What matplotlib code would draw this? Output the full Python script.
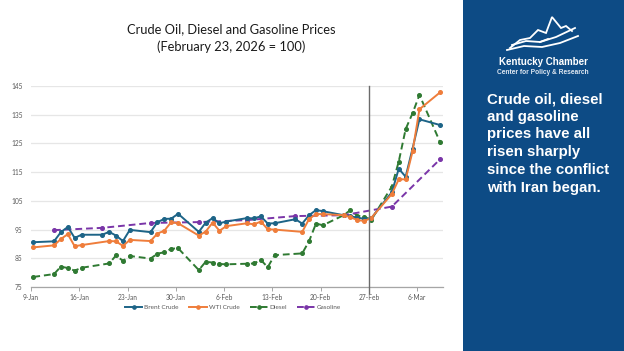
import matplotlib
matplotlib.use("Agg")
import matplotlib.pyplot as plt
import matplotlib.dates as mdates
from matplotlib.lines import Line2D
from matplotlib.patches import Rectangle
import pandas as pd

# ---------------- data ----------------
brent_dates = ["2026-01-09","2026-01-12","2026-01-13","2026-01-14","2026-01-15","2026-01-16",
               "2026-01-19","2026-01-20","2026-01-21","2026-01-22","2026-01-23",
               "2026-01-26","2026-01-27","2026-01-28","2026-01-29","2026-01-30",
               "2026-02-02","2026-02-03","2026-02-04","2026-02-05","2026-02-06",
               "2026-02-09","2026-02-10","2026-02-11","2026-02-12","2026-02-13",
               "2026-02-16","2026-02-17","2026-02-18","2026-02-19","2026-02-20",
               "2026-02-23","2026-02-24","2026-02-25","2026-02-26","2026-02-27",
               "2026-03-02","2026-03-03","2026-03-04","2026-03-05","2026-03-06","2026-03-09"]
brent = [90.6, 90.9, 94.1, 95.9, 92.1, 93.2,
         93.2, 94.2, 92.9, 91.0, 94.9,
         94.1, 97.6, 98.7, 98.8, 100.5,
         94.2, 97.4, 99.0, 97.2, 97.8,
         99.0, 98.9, 99.6, 97.1, 97.2,
         98.6, 97.1, 100.0, 101.8, 101.4,
         100.0, 99.6, 99.2, 98.7, 98.9,
         108.0, 116.2, 113.4, 123.2, 133.4, 131.4]

wti_dates = ["2026-01-09","2026-01-12","2026-01-13","2026-01-14","2026-01-15","2026-01-16",
             "2026-01-20","2026-01-21","2026-01-22","2026-01-23",
             "2026-01-26","2026-01-27","2026-01-28","2026-01-29","2026-01-30",
             "2026-02-02","2026-02-03","2026-02-04","2026-02-05","2026-02-06",
             "2026-02-09","2026-02-10","2026-02-11","2026-02-12","2026-02-13",
             "2026-02-17","2026-02-18","2026-02-19","2026-02-20",
             "2026-02-23","2026-02-24","2026-02-25","2026-02-26","2026-02-27",
             "2026-03-02","2026-03-03","2026-03-04","2026-03-05","2026-03-06","2026-03-09"]
wti = [88.8, 89.5, 91.7, 93.4, 89.2, 89.6,
       91.0, 90.9, 89.3, 91.4,
       91.0, 93.6, 94.6, 97.6, 97.2,
       92.9, 94.3, 97.4, 94.6, 96.2,
       97.2, 96.8, 97.8, 95.1, 95.0,
       94.2, 98.7, 100.4, 100.4,
       100.0, 99.3, 98.3, 98.0, 99.0,
       107.4, 112.5, 112.5, 122.2, 136.9, 142.8]

diesel_dates = wti_dates
diesel = [78.5, 79.5, 82.1, 81.6, 80.7, 81.7,
          83.2, 86.0, 84.1, 85.8,
          84.9, 86.6, 87.1, 88.3, 88.5,
          80.9, 83.8, 83.5, 83.0, 82.9,
          83.1, 83.2, 84.4, 81.9, 86.1,
          86.7, 91.0, 97.1, 96.5,
          100.0, 101.8, 99.8, 99.5, 98.3,
          110.0, 118.7, 130.0, 135.5, 141.9, 125.4]

gas_dates = ["2026-01-12","2026-01-19","2026-01-26","2026-02-02","2026-02-09",
             "2026-02-16","2026-02-23","2026-03-02","2026-03-09"]
gasoline = [94.8, 95.6, 97.3, 97.6, 98.3, 99.7, 100.0, 103.0, 119.5]

y_ticks = [75, 85, 95, 105, 115, 125, 135, 145]
x_ticks = ["2026-01-09","2026-01-16","2026-01-23","2026-01-30","2026-02-06",
           "2026-02-13","2026-02-20","2026-02-27","2026-03-06"]
conflict_date = "2026-02-27"

title = "Crude Oil, Diesel and Gasoline Prices"
subtitle = "(February 23, 2026 = 100)"
panel_text = "Crude oil, diesel\nand gasoline\nprices have all\nrisen sharply\nsince the conflict\nwith Iran began."

plt.rcParams["font.family"] = ["Lato", "DejaVu Sans"]

# ---------------- figure ----------------
fig = plt.figure(figsize=(6.24, 3.51), dpi=100)
fig.patch.set_facecolor("white")

ax = fig.add_axes([31/624, 1-287/351, (443-31)/624, (287-86)/351])
off = pd.Timedelta(hours=8)

def d(lst):
    return pd.to_datetime(lst) + off

ms = 2.6
ax.plot(d(brent_dates), brent, color="#1d6487", lw=1.4, marker="o", ms=ms, label="Brent Crude", zorder=4)
ax.plot(d(wti_dates), wti, color="#ef7d3b", lw=1.4, marker="o", ms=ms, label="WTI Crude", zorder=4)
ax.plot(d(diesel_dates), diesel, color="#2f7a32", lw=1.4, ls=(0, (3.5, 2)), marker="o", ms=ms, label="Diesel", zorder=3)
ax.plot(d(gas_dates), gasoline, color="#7a35a8", lw=1.4, ls=(0, (3.5, 2)), marker="o", ms=ms, label="Gasoline", zorder=3)

ax.axvline(pd.to_datetime(conflict_date), ymin=-0.03, ymax=1.0, color="#6b6b6b", lw=1.0, zorder=5, clip_on=False)

ax.set_ylim(75, 145)
ax.set_xlim(pd.to_datetime("2026-01-09"), pd.to_datetime("2026-03-10") - pd.Timedelta(hours=6))
ax.set_yticks(y_ticks)
ax.set_yticklabels([str(v) for v in y_ticks])
ax.set_xticks(pd.to_datetime(x_ticks))
ax.xaxis.set_major_formatter(mdates.DateFormatter("%-d-%b"))
ax.grid(axis="y", color="#e6e6e6", lw=0.9)
ax.set_axisbelow(True)
for s in ["top", "right", "left"]:
    ax.spines[s].set_visible(False)
ax.spines["bottom"].set_color("#a6a6a6")
ax.spines["bottom"].set_linewidth(0.9)
ax.tick_params(axis="y", length=0, labelsize=4.8, labelcolor="#595959", pad=6)
ax.tick_params(axis="x", length=3, width=0.7, color="#a6a6a6", labelsize=4.8, labelcolor="#595959", pad=2)

fig.text(231/624, 1-29/351, title, ha="center", va="center", fontsize=9.3, color="#1a1a1a")
fig.text(231/624, 1-47/351, subtitle, ha="center", va="center", fontsize=9.3, color="#1a1a1a")

leg = fig.legend(loc="center", bbox_to_anchor=(233/624, 1-307/351), ncol=4, frameon=False,
                 fontsize=4.6, handlelength=2.8, columnspacing=1.6, handletextpad=0.3, markerscale=0.9)
for t in leg.get_texts():
    t.set_color("#595959")

# ---------------- right panel ----------------
fig.add_artist(Rectangle((463/624, 0), (624-463)/624, 1, transform=fig.transFigure,
                         facecolor="#0d4b85", edgecolor="none", zorder=0))

def fx(x):
    return x/624
def fy(y):
    return 1-y/351

logo_lines = [
    [(510, 48), (520, 40), (530, 38), (538, 30), (546, 33), (552, 17), (561, 28), (566, 26), (572, 31)],
    [(512, 45), (526, 41), (540, 42), (556, 37), (575, 28)],
    [(507, 50), (524, 46), (542, 47), (560, 43), (578, 36)],
    [(540, 42), (548, 39)],
]
for pts in logo_lines:
    xs = [fx(p[0]) for p in pts]
    ys = [fy(p[1]) for p in pts]
    fig.add_artist(Line2D(xs, ys, transform=fig.transFigure, color="white", lw=1.3, solid_joinstyle="miter"))

fig.text(fx(543), fy(62), "Kentucky Chamber", ha="center", va="center", fontsize=7, fontweight="bold",
         color="white", family="Liberation Sans")
fig.text(fx(543), fy(72), "Center for Policy & Research", ha="center", va="center", fontsize=4.8,
         fontweight="bold", color="#dfe8f2", family="Liberation Sans")
fig.text(fx(487), fy(92), panel_text, ha="left", va="top", fontsize=10.8, fontweight="bold",
         color="white", family="Liberation Sans", linespacing=1.34)

fig.savefig("out.png", dpi=100)
